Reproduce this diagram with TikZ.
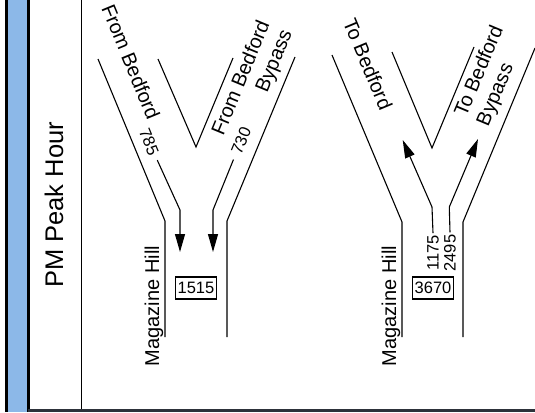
\documentclass[tikz,border=0pt]{standalone}
\usepackage{fontspec}
\setmainfont{Liberation Sans}
\usepackage{tikz}
\usetikzlibrary{arrows.meta,positioning}
\definecolor{barblue}{RGB}{140,184,232}
\definecolor{rim}{RGB}{45,50,58}

\begin{document}
\begin{tikzpicture}[x=1pt,y=-1pt,node distance=237pt,on grid,
  road/.style={line width=1.1pt},
  flow/.style={line width=1.1pt,-{Triangle[length=18pt,width=10pt]}},
  street/.style={font=\fontsize{20}{24}\selectfont,inner sep=0pt},
  count/.style={font=\fontsize{16.5}{19}\selectfont,inner sep=2pt},
  total/.style={draw,line width=1.1pt,font=\fontsize{16.5}{19}\selectfont,inner xsep=2.5pt,minimum height=22pt},
  title/.style={font=\fontsize{25.5}{30}\selectfont,rotate=90}]
  \useasboundingbox (0,0) rectangle (535,412);
  \fill[black] (5,0) rectangle (8,412);
  \fill[barblue] (8,0) rectangle (27,412);
  \fill[black] (27,0) rectangle (30,412);
  \fill[rim] (28,408.5) rectangle (535,412);
  \draw[line width=1.2pt] (81.5,0) -- (81.5,409);
  \node[title] (peak) at (54,205) {PM Peak Hour};

  \coordinate (aL1) at (98,59);   \coordinate (aL2) at (165,221);  \coordinate (aL3) at (165,337);
  \coordinate (aV1) at (158,59);  \coordinate (aV2) at (196,147);  \coordinate (aV3) at (233,58);
  \coordinate (aR1) at (295,57);  \coordinate (aR2) at (227,221);  \coordinate (aR3) at (227,337);
  \coordinate (aB1) at (180,210); \coordinate (aE1) at (180,252);
  \coordinate (aB2) at (213,210); \coordinate (aE2) at (213,252);

  \coordinate (bL1) at (332,55);  \coordinate (bL2) at (402,222);  \coordinate (bL3) at (402,337);
  \coordinate (bV1) at (392,52);  \coordinate (bV2) at (432,148);  \coordinate (bV3) at (474,47);
  \coordinate (bR1) at (535,48);  \coordinate (bR2) at (463,222);  \coordinate (bR3) at (463,337);
  \coordinate (bB1) at (432,207); \coordinate (bE1) at (402.7,140);
  \coordinate (bB2) at (449.3,207); \coordinate (bE2) at (478,139);

  \node[street,rotate=-67.6] (fromB) at (131,62) {From Bedford};
  \node[street,rotate=67.6,align=right] (fromBB) at (253,83) {From Bedford\\Bypass};
  \node[street,rotate=-67.3] (toB) at (368,64) {To Bedford};
  \node[street,rotate=67.3,align=left] (toBB) at (491,76) {To Bedford\\Bypass};
  \node[street,rotate=90] (magA) at (154,306) {Magazine Hill};
  \node[street,rotate=90] (magB) at (391,306) {Magazine Hill};

  \node[count,rotate=-67.6,inner xsep=6pt] (n785) at (149,142) {785};
  \node[count,rotate=67.6,inner xsep=6pt] (n730) at (241,141) {730};
  \node[count,rotate=90] (n1175) at (433,253) {1175};
  \node[count,rotate=90] (n2495) at (450,253) {2495};

  \node[total] (totA) at (196,288) {1515};
  \node[total] (totB) [right = of totA] {3670};

  \draw[road] (aL1) -- (aL2) -- (aL3);
  \draw[road] (aV1) -- (aV2) -- (aV3);
  \draw[road] (aR1) -- (aR2) -- (aR3);
  \draw[road] (bL1) -- (bL2) -- (bL3);
  \draw[road] (bV1) -- (bV2) -- (bV3);
  \draw[road] (bR1) -- (bR2) -- (bR3);

  \draw[flow] (n785) -- (aB1) -- (aE1);
  \draw[flow] (n730) -- (aB2) -- (aE2);
  \draw[flow] (n1175.east) -- (bB1) -- (bE1);
  \draw[flow] (n2495.east) -- (bB2) -- (bE2);
\end{tikzpicture}
\end{document}
